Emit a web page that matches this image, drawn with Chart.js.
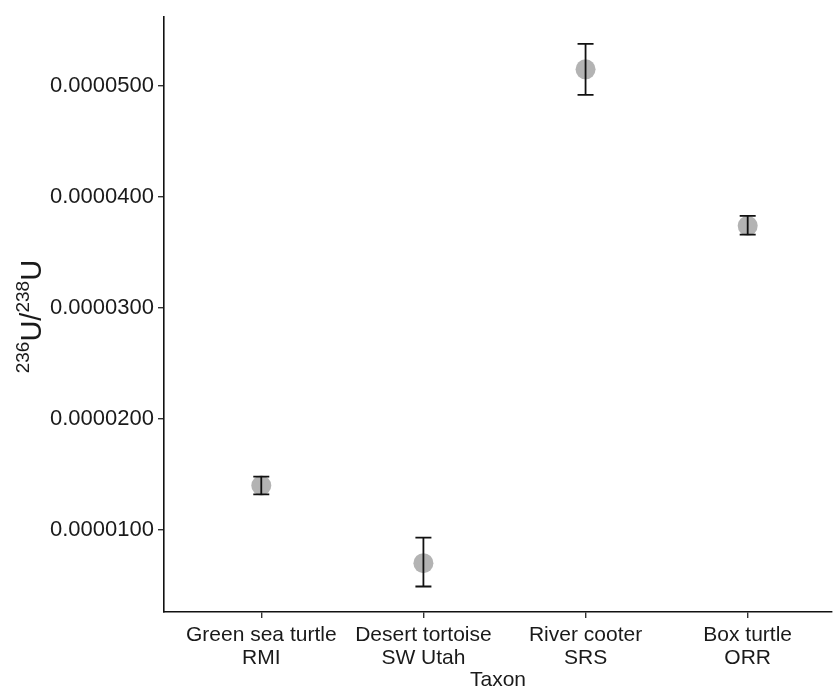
<!DOCTYPE html>
<html>
<head>
<meta charset="utf-8">
<script src="https://cdn.jsdelivr.net/npm/chart.js@4"></script>
<style>
  html, body { margin: 0; padding: 0; background: #fff; }
  #wrap { width: 835px; height: 691px; }
</style>
</head>
<body>
<div id="wrap"><canvas id="ratioChart" width="835" height="691"></canvas></div>
<script>
// data
const taxa = [['Green sea turtle', 'RMI'], ['Desert tortoise', 'SW Utah'], ['River cooter', 'SRS'], ['Box turtle', 'ORR']];
const ratios = [0.0000140, 0.0000070, 0.0000515, 0.0000374];
const lowerBars = [0.0000132, 0.0000049, 0.0000492, 0.0000366];
const upperBars = [0.0000148, 0.0000093, 0.0000538, 0.0000383];
const yTicks = [0.00001, 0.00002, 0.00003, 0.00004, 0.00005];

const fontFamily = '"Liberation Sans", Arial, sans-serif';
const inkColor = '#1a1a1a';

const points = ratios.map((v, i) => ({ x: i, y: v }));
const bars = [];
for (let i = 0; i < ratios.length; i++) {
    bars.push({ x: i, y: lowerBars[i] });
    bars.push({ x: i, y: upperBars[i] });
    bars.push({ x: i, y: null });
}

// y axis title with superscripts, drawn on the canvas
const yTitlePlugin = {
    id: 'yTitle',
    afterDraw(chart) {
        const ctx = chart.ctx;
        const big = 29, small = 19;
        const parts = [['236', small], ['U/', big], ['238', small], ['U', big]];
        ctx.save();
        ctx.fillStyle = inkColor;
        ctx.textBaseline = 'alphabetic';
        ctx.textAlign = 'left';
        let total = 0;
        parts.forEach(p => {
            ctx.font = p[1] + 'px ' + fontFamily;
            total += ctx.measureText(p[0]).width;
        });
        ctx.translate(41, (chart.chartArea.top + chart.chartArea.bottom) / 2 + 2);
        ctx.rotate(-Math.PI / 2);
        let x = -total / 2;
        parts.forEach(p => {
            ctx.font = p[1] + 'px ' + fontFamily;
            const dy = p[1] === small ? -big * 0.42 : 0;
            ctx.fillText(p[0], x, dy);
            x += ctx.measureText(p[0]).width;
        });
        ctx.restore();
    }
};

new Chart(document.getElementById('ratioChart'), {
    type: 'scatter',
    data: {
        datasets: [{
            type: 'line',
            label: 'error',
            data: bars,
            order: 0,
            borderColor: '#111',
            borderWidth: 1.8,
            spanGaps: false,
            pointStyle: 'line',
            pointRadius: 8,
            pointBorderWidth: 1.8,
            pointBorderColor: '#111',
            pointHoverRadius: 8
        }, {
            label: 'ratio',
            data: points,
            order: 1,
            pointRadius: 10,
            pointHoverRadius: 10,
            pointBorderWidth: 0,
            backgroundColor: 'rgba(140,140,140,0.66)'
        }]
    },
    options: {
        responsive: false,
        animation: false,
        layout: { autoPadding: false, padding: { top: 13, right: 3, left: 0, bottom: 0 } },
        plugins: { legend: { display: false }, tooltip: { enabled: false } },
        scales: {
            x: {
                type: 'linear',
                min: -0.6,
                max: 3.52,
                afterBuildTicks: (scale) => { scale.ticks = taxa.map((t, i) => ({ value: i })); },
                afterFit: (scale) => { scale.height = 79; },
                ticks: {
                    color: inkColor,
                    font: { family: fontFamily, size: 21, lineHeight: 1.12 },
                    padding: 5,
                    maxRotation: 0,
                    autoSkip: false,
                    callback: (v) => taxa[v]
                },
                grid: { drawOnChartArea: false, drawTicks: true, tickLength: 6, color: '#333', lineWidth: 1.4 },
                border: { display: true, color: '#111', width: 1.6 },
                title: {
                    display: true,
                    text: 'Taxon',
                    color: inkColor,
                    font: { family: fontFamily, size: 21 },
                    padding: { top: 0, bottom: -2 }
                }
            },
            y: {
                type: 'linear',
                min: 0.0000026,
                max: 0.0000562,
                afterBuildTicks: (scale) => { scale.ticks = yTicks.map(v => ({ value: v })); },
                afterFit: (scale) => { scale.width = 164; },
                ticks: {
                    color: inkColor,
                    font: { family: fontFamily, size: 22 },
                    padding: 4,
                    callback: (v) => v.toFixed(7)
                },
                grid: { drawOnChartArea: false, drawTicks: true, tickLength: 6, color: '#333', lineWidth: 1.4 },
                border: { display: true, color: '#111', width: 1.6 }
            }
        }
    },
    plugins: [yTitlePlugin]
});
</script>
</body>
</html>
